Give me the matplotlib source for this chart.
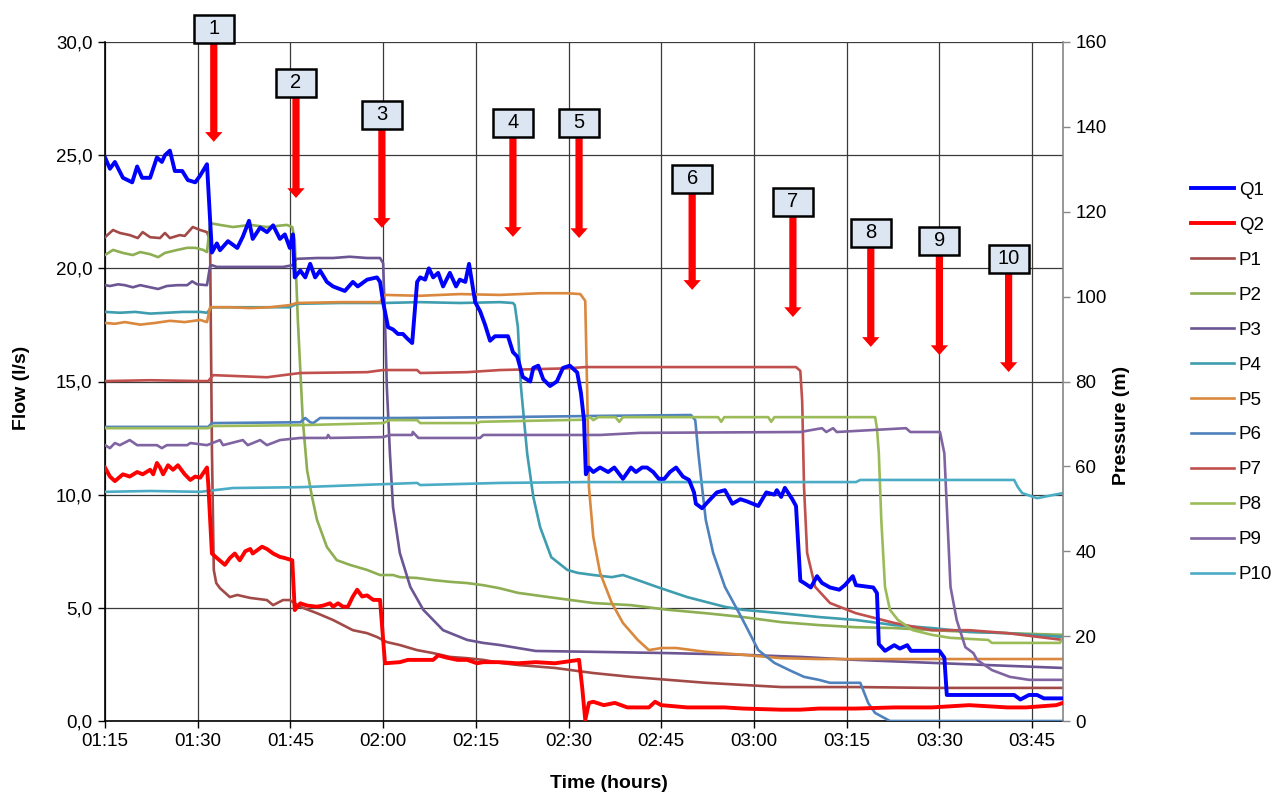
import numpy as np
import matplotlib
matplotlib.use("Agg")
import matplotlib.pyplot as plt
from matplotlib.patches import Rectangle
from matplotlib.ticker import FuncFormatter

plt.rcParams['font.family'] = ['Liberation Sans', 'DejaVu Sans']

# time is in minutes after 01:15
START_MIN = 75

# flows (l/s), (time, value)
q1_pts = [(0, 24.9), (0.8, 24.4), (1.6, 24.7), (2.9, 24.0), (4.4, 23.8), (5.2, 24.5), (6.0, 24.0),
          (7.3, 24.0), (8.4, 24.9), (9.2, 24.7), (9.7, 25.0), (10.5, 25.2), (11.3, 24.3), (12.5, 24.3),
          (13.4, 23.9), (14.6, 23.8), (15.4, 24.1), (16.5, 24.6), (17.3, 20.7), (18.1, 21.1), (18.6, 20.8),
          (19.9, 21.2), (21.4, 20.9), (22.3, 21.4), (23.3, 22.1), (23.9, 21.3), (25.1, 21.8), (26.2, 21.6),
          (27.2, 21.9), (28.3, 21.3), (29.1, 21.5), (29.9, 20.9), (30.4, 21.5), (30.7, 19.6), (31.6, 19.9),
          (32.4, 19.6), (33.2, 20.2), (34.0, 19.6), (34.8, 19.9), (35.9, 19.4), (36.9, 19.2), (38.8, 19.0),
          (40.1, 19.4), (40.9, 19.2), (42.4, 19.5), (44.0, 19.6), (44.5, 19.4), (45.0, 18.5), (45.8, 17.4),
          (46.6, 17.3), (47.4, 17.1), (48.2, 17.1), (48.9, 16.9), (49.7, 16.7), (50.5, 19.4), (51.0, 19.6),
          (51.8, 19.5), (52.4, 20.0), (53.1, 19.6), (53.9, 19.8), (54.7, 19.2), (55.8, 19.8), (56.8, 19.2),
          (57.4, 19.5), (58.3, 19.4), (58.9, 20.2), (59.9, 18.5), (60.7, 18.1), (61.5, 17.5), (62.3, 16.8),
          (63.1, 17.0), (65.2, 17.0), (66.0, 16.3), (66.7, 16.1), (67.6, 15.2), (68.8, 15.0), (69.3, 15.6),
          (70.1, 15.7), (70.9, 15.1), (72.0, 14.8), (73.1, 15.0), (74.1, 15.6), (75.2, 15.7), (76.4, 15.4),
          (77.0, 14.5), (77.5, 13.3), (77.8, 10.9), (78.3, 11.2), (79.0, 11.0), (80.1, 11.2), (81.4, 11.0),
          (82.4, 11.2), (83.8, 10.7), (85.1, 11.2), (85.9, 11.0), (86.9, 11.2), (87.7, 11.2), (88.7, 11.0),
          (89.6, 10.7), (90.5, 10.7), (91.4, 11.0), (92.4, 11.2), (93.5, 10.8), (94.5, 10.65), (95.3, 10.1),
          (95.6, 9.6), (96.6, 9.4), (97.6, 9.7), (99.0, 10.1), (100.3, 10.2), (101.5, 9.6), (102.8, 9.8),
          (103.9, 9.7), (105.7, 9.5), (107.0, 10.1), (108.3, 10.0), (108.7, 10.2), (109.4, 9.9), (110.0, 10.3),
          (111.2, 9.8), (111.8, 9.5), (112.5, 6.2), (113.1, 6.1), (114.2, 5.9), (115.2, 6.4), (116.0, 6.1),
          (117.3, 5.9), (118.8, 5.8), (119.7, 6.0), (121.0, 6.4), (121.5, 6.0), (124.3, 5.9), (124.9, 5.65),
          (125.2, 3.4), (126.2, 3.1), (127.7, 3.35), (128.6, 3.2), (129.8, 3.35), (130.4, 3.1), (135.0, 3.1),
          (135.8, 2.8), (136.2, 1.15), (147.1, 1.15), (148.1, 0.95), (149.5, 1.15), (150.8, 1.15), (151.9, 1.0),
          (155.0, 1.0)]

q2_pts = [(0, 11.2), (0.8, 10.8), (1.6, 10.6), (2.9, 10.9), (4.0, 10.8), (5.2, 11.0), (6.1, 10.9), (7.3, 11.1),
          (7.8, 10.9), (8.4, 11.4), (8.9, 11.2), (9.4, 10.9), (10.2, 11.3), (11.0, 11.1), (11.8, 11.3),
          (12.9, 10.9), (13.8, 10.65), (14.6, 10.8), (15.4, 10.75), (16.5, 11.2), (16.7, 10.5), (17.3, 7.4),
          (18.1, 7.2), (19.4, 6.9), (20.2, 7.2), (21.0, 7.4), (21.8, 7.1), (22.7, 7.5), (23.5, 7.6), (23.9, 7.4),
          (25.4, 7.7), (26.2, 7.6), (27.2, 7.4), (28.3, 7.25), (29.1, 7.2), (30.3, 7.1), (30.7, 4.9), (31.6, 5.2),
          (32.7, 5.1), (34.3, 5.05), (35.3, 5.1), (36.4, 5.2), (36.9, 5.05), (37.7, 5.2), (38.5, 5.05),
          (39.3, 5.05), (40.1, 5.5), (40.8, 5.8), (41.6, 5.5), (42.4, 5.55), (43.4, 5.35), (44.5, 5.35),
          (45.0, 3.6), (45.3, 2.55), (47.7, 2.6), (49.0, 2.7), (53.1, 2.7), (53.9, 2.9), (55.3, 2.8), (57.0, 2.7),
          (58.6, 2.7), (60.2, 2.55), (61.2, 2.6), (63.8, 2.6), (66.8, 2.55), (69.7, 2.6), (72.8, 2.55),
          (76.7, 2.7), (77.2, 1.5), (77.7, 0.05), (78.3, 0.8), (79.0, 0.85), (80.7, 0.7), (82.5, 0.8),
          (84.5, 0.6), (86.2, 0.6), (88.0, 0.6), (89.0, 0.85), (90.0, 0.7), (94.2, 0.6), (100.3, 0.6),
          (103.2, 0.55), (109.4, 0.5), (112.5, 0.5), (115.5, 0.55), (121.5, 0.55), (127.7, 0.6), (133.8, 0.6),
          (139.8, 0.7), (146.0, 0.6), (149.0, 0.6), (153.9, 0.7), (155.0, 0.8)]

# pressures (m), (time, value)
p1_pts = [(0, 114.0), (1.3, 115.7), (2.4, 115.0), (4.0, 114.5), (5.3, 113.8), (6.1, 115.2), (7.3, 114.0),
          (8.9, 113.8), (9.7, 115.0), (10.5, 113.8), (12.1, 114.5), (12.9, 114.3), (14.2, 116.4), (15.4, 115.7),
          (16.5, 115.2), (17.0, 113.3), (17.3, 63.9), (17.6, 35.6), (18.0, 32.5), (18.6, 31.3), (20.2, 29.2),
          (21.4, 29.7), (23.5, 29.0), (26.2, 28.5), (27.2, 27.3), (28.8, 28.5), (29.9, 28.5), (31.6, 26.9),
          (34.3, 25.4), (36.9, 23.8), (40.1, 21.4), (42.4, 20.7), (44.0, 19.8), (45.6, 18.6), (47.7, 17.9),
          (50.5, 16.7), (53.1, 16.0), (55.8, 15.1), (58.6, 14.8), (61.2, 14.4), (63.9, 13.7), (66.8, 13.2),
          (72.8, 12.5), (79.0, 11.3), (85.1, 10.4), (91.1, 9.7), (97.2, 9.0), (103.2, 8.5), (109.4, 8.0),
          (121.5, 8.0), (133.8, 7.8), (155.0, 7.8)]

p2_pts = [(0, 109.8), (1.3, 111.0), (2.9, 110.3), (4.5, 109.8), (5.7, 110.5), (7.3, 110.0), (8.6, 109.3),
          (9.7, 110.3), (11.7, 111.0), (13.3, 111.5), (14.6, 111.5), (15.9, 111.0), (16.5, 110.5), (17.0, 117.3),
          (18.6, 116.9), (20.7, 116.4), (23.5, 116.9), (26.2, 116.4), (29.4, 116.9), (30.3, 116.4),
          (30.7, 113.3), (31.2, 94.5), (31.6, 82.7), (32.0, 70.9), (32.7, 59.1), (33.5, 52.8), (34.3, 47.4),
          (35.9, 41.0), (37.5, 37.9), (39.6, 36.8), (42.4, 35.6), (44.5, 34.4), (46.6, 34.4), (47.7, 33.9),
          (50.5, 33.7), (53.1, 33.2), (55.8, 32.8), (58.6, 32.5), (61.2, 32.0), (63.8, 31.3), (66.8, 30.2),
          (72.8, 29.0), (79.0, 27.8), (85.1, 27.3), (91.1, 26.2), (97.2, 25.4), (103.2, 24.5), (109.4, 23.3),
          (115.5, 22.6), (121.5, 22.1), (127.7, 21.9), (133.8, 21.4), (139.8, 21.0), (146.0, 20.7),
          (155.0, 20.3)]

p3_pts = [(0, 102.7), (0.8, 102.5), (2.1, 102.9), (3.2, 102.7), (4.5, 102.2), (5.7, 102.7), (7.3, 102.2),
          (8.6, 101.8), (10.0, 102.5), (11.7, 102.7), (13.3, 102.7), (14.1, 103.6), (14.9, 102.9),
          (16.5, 102.7), (17.0, 107.2), (17.3, 107.4), (18.1, 107.0), (20.7, 107.0), (23.5, 107.0),
          (26.2, 107.0), (28.8, 107.0), (30.3, 107.4), (31.0, 108.9), (34.3, 109.1), (36.9, 109.1),
          (39.6, 109.4), (42.4, 109.1), (44.5, 109.1), (45.0, 107.9), (45.3, 94.5), (45.6, 78.7), (46.1, 63.1),
          (46.6, 50.4), (47.7, 39.6), (49.4, 31.6), (51.5, 26.2), (54.7, 21.4), (58.6, 19.1), (61.2, 18.4),
          (63.9, 17.9), (66.8, 17.2), (69.7, 16.5), (79.0, 16.3), (91.1, 16.0), (103.2, 15.6), (112.5, 15.1),
          (121.5, 14.4), (133.8, 13.7), (146.0, 13.0), (155.0, 12.5)]

p4_pts = [(0, 96.4), (2.4, 96.2), (4.9, 96.4), (7.3, 96.0), (10.0, 96.2), (12.6, 96.4), (15.4, 96.4),
          (16.5, 96.2), (17.3, 97.5), (23.5, 97.5), (29.9, 97.5), (31.0, 98.3), (38.0, 98.5), (45.0, 98.5),
          (51.0, 98.7), (57.4, 98.5), (63.9, 98.7), (66.0, 98.5), (66.3, 98.0), (66.8, 92.8), (67.3, 78.7),
          (68.3, 63.1), (69.3, 52.8), (70.4, 45.7), (72.2, 38.6), (74.8, 35.6), (76.5, 34.9), (79.0, 34.4),
          (82.0, 33.9), (83.8, 34.4), (86.2, 33.2), (89.3, 31.6), (94.2, 29.2), (100.3, 26.9), (103.2, 26.2),
          (109.4, 25.4), (115.5, 24.5), (121.5, 23.8), (127.7, 22.6), (133.8, 21.9), (139.8, 21.0),
          (146.0, 20.7), (155.0, 19.8)]

p5_pts = [(0, 93.8), (1.6, 93.6), (3.2, 94.0), (5.7, 93.4), (8.1, 93.8), (10.5, 94.3), (12.9, 94.0),
          (15.4, 94.5), (16.5, 94.0), (17.0, 97.5), (20.2, 97.5), (23.5, 97.3), (26.7, 97.5), (29.9, 98.0),
          (31.0, 98.5), (38.0, 98.7), (44.5, 98.7), (45.3, 100.4), (51.0, 100.2), (57.4, 100.6), (63.9, 100.4),
          (70.4, 100.8), (74.8, 100.8), (76.9, 100.6), (77.7, 99.0), (78.0, 78.7), (78.3, 55.1), (79.0, 43.4),
          (80.1, 34.9), (82.0, 27.8), (83.8, 23.1), (86.2, 19.1), (88.0, 16.7), (90.0, 17.2), (92.4, 17.2),
          (97.2, 16.3), (103.2, 15.6), (109.4, 14.8), (115.5, 14.6), (155.0, 14.6)]

p6_pts = [(0, 69.3), (16.7, 69.3), (17.3, 70.2), (31.6, 70.4), (32.4, 71.4), (33.2, 70.4), (33.7, 70.2),
          (34.8, 71.4), (47.7, 71.4), (63.9, 71.6), (80.1, 71.9), (94.8, 72.1), (95.5, 70.9), (96.0, 63.1),
          (96.6, 55.1), (97.2, 47.4), (98.4, 39.6), (100.3, 31.6), (103.2, 23.8), (105.7, 16.7), (108.3, 13.7),
          (110.7, 12.0), (113.1, 10.4), (115.5, 9.7), (117.3, 9.0), (122.2, 9.0), (123.5, 4.2), (124.6, 1.9),
          (127.0, 0.0), (155.0, 0.0)]

p7_pts = [(0, 80.1), (7.3, 80.3), (15.4, 80.1), (16.7, 80.1), (17.5, 81.5), (26.2, 81.0), (31.6, 82.0),
          (42.4, 82.2), (45.0, 82.7), (50.5, 82.7), (51.0, 82.0), (58.6, 82.2), (63.9, 82.7), (74.8, 83.1),
          (77.7, 83.4), (96.3, 83.4), (111.8, 83.4), (112.5, 82.5), (112.8, 75.4), (113.1, 55.1), (113.6, 39.6),
          (114.9, 31.6), (117.3, 27.8), (121.5, 25.4), (127.7, 23.1), (133.8, 21.4), (139.8, 21.4),
          (146.0, 20.7), (155.0, 19.1)]

p8_pts = [(0, 69.0), (16.7, 69.0), (17.3, 69.5), (31.6, 69.7), (45.0, 70.2), (46.1, 70.9), (50.5, 70.9),
          (51.0, 70.2), (60.2, 70.2), (60.7, 70.5), (77.7, 71.0), (78.5, 71.6), (79.0, 70.9), (79.8, 71.6),
          (82.6, 71.6), (83.2, 70.5), (83.8, 71.6), (99.2, 71.6), (99.7, 70.5), (100.2, 71.6), (107.3, 71.6),
          (107.8, 70.5), (108.3, 71.6), (124.6, 71.6), (124.9, 69.0), (125.2, 63.1), (125.6, 47.4),
          (126.2, 31.6), (127.0, 26.2), (128.3, 23.8), (130.7, 21.4), (133.8, 20.3), (136.7, 19.6),
          (142.9, 19.1), (143.5, 18.4), (154.5, 18.4), (155.0, 19.6)]

p9_pts = [(0, 65.0), (0.8, 64.3), (1.6, 65.5), (2.4, 65.0), (4.0, 66.2), (5.2, 65.0), (8.4, 65.0),
          (9.2, 64.3), (10.0, 65.0), (13.3, 65.0), (13.8, 65.5), (16.5, 65.0), (18.6, 66.2), (19.1, 65.0),
          (22.3, 66.2), (23.1, 65.0), (25.1, 66.2), (26.2, 65.0), (28.3, 66.2), (31.6, 66.7), (35.9, 66.7),
          (36.1, 67.4), (36.4, 66.7), (45.0, 66.9), (46.1, 67.4), (49.7, 67.4), (49.8, 68.1), (50.7, 66.7),
          (60.7, 66.7), (61.2, 67.4), (80.1, 67.4), (86.6, 67.9), (112.5, 68.1), (116.0, 69.0), (116.7, 68.1),
          (117.8, 69.0), (118.4, 68.1), (129.6, 69.0), (130.3, 68.1), (135.1, 68.1), (135.8, 63.1),
          (136.3, 47.4), (136.8, 31.6), (137.8, 23.8), (139.2, 17.4), (140.5, 16.0), (141.1, 14.4),
          (143.5, 12.0), (146.4, 10.4), (149.5, 9.7), (155.0, 9.7)]

p10_pts = [(0, 54.0), (7.3, 54.2), (15.4, 54.0), (20.7, 54.9), (31.6, 55.1), (45.0, 55.8), (50.5, 56.1),
           (51.0, 55.6), (63.9, 56.1), (77.7, 56.3), (121.5, 56.3), (122.2, 56.8), (147.1, 56.8), (147.7, 55.1),
           (148.4, 53.7), (150.8, 52.5), (153.2, 53.2), (155.0, 53.7)]

flow_series = [("Q1", q1_pts, "#0000FF"), ("Q2", q2_pts, "#FF0000")]
pressure_series = [("P1", p1_pts, "#A24A47"), ("P2", p2_pts, "#8DAE52"), ("P3", p3_pts, "#6B5592"),
                   ("P4", p4_pts, "#3E9DAE"), ("P5", p5_pts, "#D9883D"), ("P6", p6_pts, "#4F81BD"),
                   ("P7", p7_pts, "#C0504D"), ("P8", p8_pts, "#9BBB59"), ("P9", p9_pts, "#8064A2"),
                   ("P10", p10_pts, "#4BACC6")]

# valve closure events: time (min after 01:15)
event_times = [17.6, 30.9, 44.8, 66.0, 76.7, 95.0, 111.3, 123.9, 135.0, 146.2]
event_labels = [str(i) for i in range(1, 11)]
# layout of the markers (flow units): box bottom, arrow tip
box_bottom = [29.96, 27.57, 26.16, 25.81, 25.81, 23.33, 22.32, 20.95, 20.59, 19.80]
arrow_tip = [25.59, 23.11, 21.79, 21.39, 21.34, 19.05, 17.85, 16.53, 16.17, 15.42]


def fmt_time(m, pos):
    m = int(round(m + START_MIN))
    return f"{m // 60:02d}:{m % 60:02d}"


fig = plt.figure(figsize=(12.74, 7.94), dpi=100)
ax = fig.add_axes([105 / 1274, 73 / 794, 958 / 1274, 679 / 794])

ax.set_xlim(0, 155)
ax.set_ylim(0, 30)
ax.set_xticks(np.arange(0, 151, 15))
ax.set_yticks(np.arange(0, 31, 5))
ax.xaxis.set_major_formatter(FuncFormatter(fmt_time))
ax.yaxis.set_major_formatter(FuncFormatter(lambda v, p: f"{v:.1f}".replace(".", ",")))
ax.grid(True, color="#3a3a3a", lw=0.9)
ax.set_axisbelow(True)
ax.tick_params(labelsize=13.5, length=5, width=1, colors="black", pad=4)
for s in ["top", "right"]:
    ax.spines[s].set_visible(False)
ax.spines["left"].set_linewidth(1.2)
ax.spines["bottom"].set_linewidth(1.2)

axp = ax.twinx()
axp.set_ylim(0, 160)
axp.set_yticks(np.arange(0, 161, 20))
axp.tick_params(labelsize=13.5, length=5, width=1, color="#868686", pad=4)
for s in ["top", "left", "bottom"]:
    axp.spines[s].set_visible(False)
axp.spines["right"].set_color("#868686")
axp.spines["right"].set_linewidth(1.2)

handles = []
p_handles = []
for name, pts, col in pressure_series:
    t, v = zip(*pts)
    ln, = axp.plot(t, v, color=col, lw=1.9, solid_joinstyle="round", label=name)
    p_handles.append(ln)

axq = ax.twinx()
axq.set_ylim(0, 30)
axq.axis("off")
for name, pts, col in flow_series:
    t, v = zip(*pts)
    ln, = axq.plot(t, v, color=col, lw=2.8, solid_joinstyle="round", label=name)
    handles.append(ln)
handles += p_handles

# event markers
bw, bh = 6.47, 1.24
for t, lab, b, tip in zip(event_times, event_labels, box_bottom, arrow_tip):
    axq.annotate("", xy=(t, tip), xytext=(t, b),
                 arrowprops=dict(facecolor="#FF0000", edgecolor="none", width=5.2,
                                 headwidth=12.5, headlength=7, shrink=0),
                 annotation_clip=False, zorder=6)
    axq.add_patch(Rectangle((t - bw / 2, b), bw, bh, facecolor="#DCE6F2", edgecolor="black",
                            lw=1.8, clip_on=False, zorder=7))
    axq.text(t, b + bh / 2, lab, ha="center", va="center", fontsize=14.5, zorder=8)

fig.text(22 / 1274, 1 - 388 / 794, "Flow (l/s)", rotation=90, ha="center", va="center",
         fontsize=14, fontweight="bold")
fig.text(1122 / 1274, 1 - 425 / 794, "Pressure (m)", rotation=90, ha="center", va="center",
         fontsize=14, fontweight="bold")
fig.text(609 / 1274, 1 - 783 / 794, "Time (hours)", ha="center", va="center",
         fontsize=14, fontweight="bold")

fig.legend(handles, [h.get_label() for h in handles], loc="center left",
           bbox_to_anchor=(1191 / 1274, 1 - 382.5 / 794), frameon=False, fontsize=13.5,
           handlelength=2.3, handletextpad=0.25, labelspacing=0.95, borderpad=0, borderaxespad=0)

fig.savefig("out.png", dpi=100)
